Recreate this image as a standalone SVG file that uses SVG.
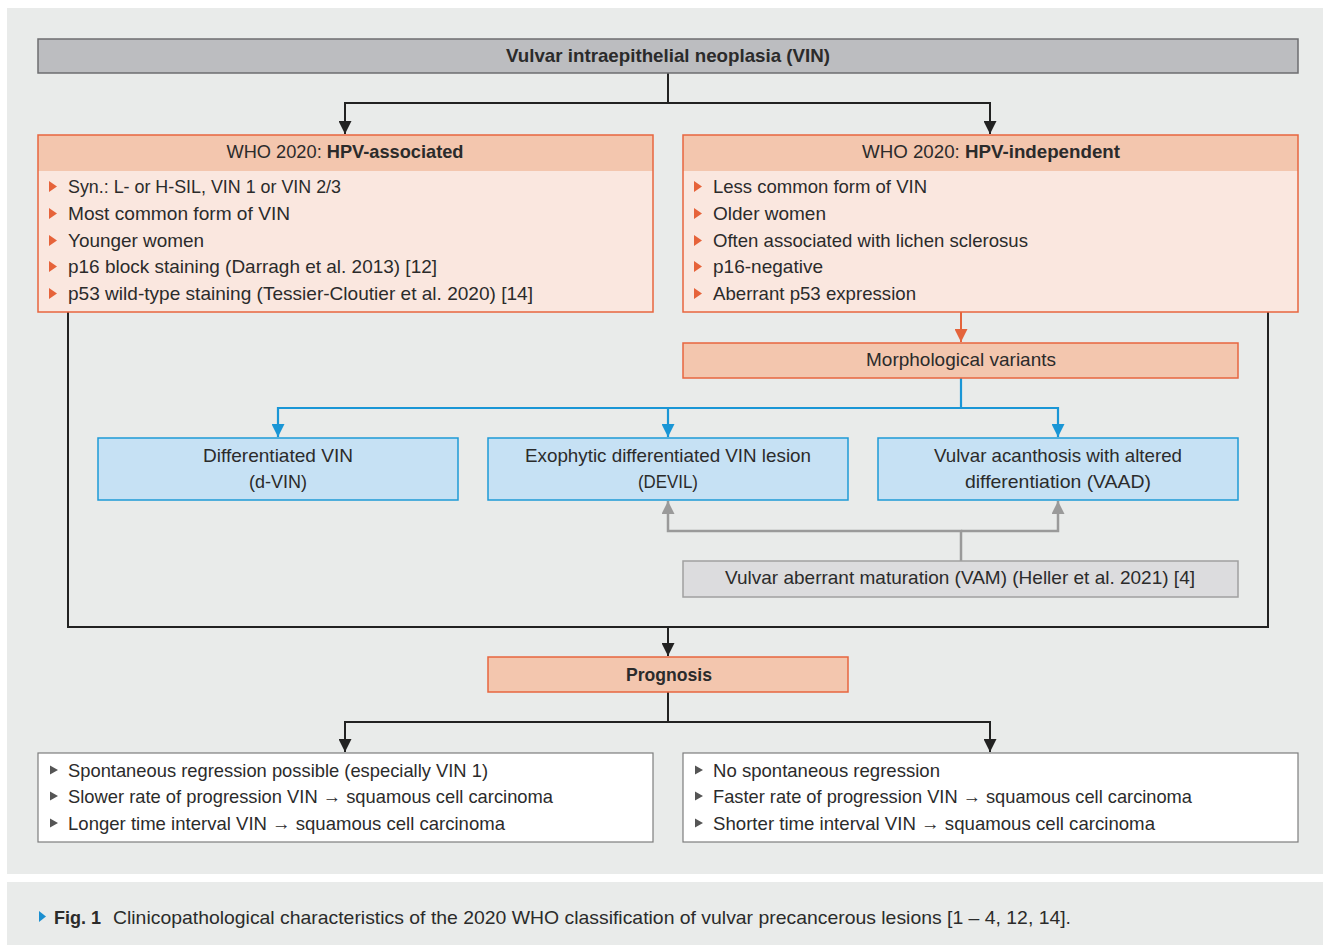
<svg xmlns="http://www.w3.org/2000/svg" width="1323" height="945" viewBox="0 0 1323 945">
<style>
text{font-family:"Liberation Sans",Arial,sans-serif;font-size:19px;fill:#2b2b2b}
.b{font-weight:bold}
.c{text-anchor:middle}
.k{fill:none;stroke:#222;stroke-width:2}
.o{fill:none;stroke:#e4643c;stroke-width:2}
.bl{fill:none;stroke:#1a96d6;stroke-width:2.2}
.g{fill:none;stroke:#9a9a9a;stroke-width:2.5}
.or{fill:#f3c6ae;stroke:#e7663f;stroke-width:1.5}
.ob{fill:#fae7df;stroke:none}
.blue{fill:#c6e1f4;stroke:#1e9ad6;stroke-width:1.5}
.ob1{fill:#e6633a}
.gb{fill:#555}
</style>
<defs>
<marker id="ak" viewBox="0 0 10 10" refX="10" refY="5" markerWidth="13" markerHeight="13" markerUnits="userSpaceOnUse" orient="auto"><path d="M0,0L10,5L0,10z" fill="#222"/></marker>
<marker id="ao" viewBox="0 0 10 10" refX="10" refY="5" markerWidth="13" markerHeight="13" markerUnits="userSpaceOnUse" orient="auto"><path d="M0,0L10,5L0,10z" fill="#e4643c"/></marker>
<marker id="ab" viewBox="0 0 10 10" refX="10" refY="5" markerWidth="13" markerHeight="13" markerUnits="userSpaceOnUse" orient="auto"><path d="M0,0L10,5L0,10z" fill="#1a96d6"/></marker>
<marker id="ag" viewBox="0 0 10 10" refX="10" refY="5" markerWidth="13" markerHeight="13" markerUnits="userSpaceOnUse" orient="auto"><path d="M0,0L10,5L0,10z" fill="#9a9a9a"/></marker>
</defs>
<rect x="0" y="0" width="1323" height="945" fill="#ffffff"/>
<rect x="7" y="8" width="1316" height="866" fill="#e9ebea"/>
<rect x="7" y="882" width="1316" height="63" fill="#e9ebea"/>

<g id="connectors">
<path class="k" d="M668,73V103H345V134" marker-end="url(#ak)"/>
<path class="k" d="M668,103H990V134" marker-end="url(#ak)"/>
<path class="o" d="M961,312V342" marker-end="url(#ao)"/>
<path class="bl" d="M961,378V408H278V437" marker-end="url(#ab)"/>
<path class="bl" d="M668,408V437" marker-end="url(#ab)"/>
<path class="bl" d="M961,408H1058V437" marker-end="url(#ab)"/>
<path class="g" d="M961,561V531H668V501" marker-end="url(#ag)"/>
<path class="g" d="M961,531H1058V501" marker-end="url(#ag)"/>
<path class="k" d="M68,312V627H1268V312"/>
<path class="k" d="M668,627V656" marker-end="url(#ak)"/>
<path class="k" d="M668,692V722H345V752" marker-end="url(#ak)"/>
<path class="k" d="M668,722H990V752" marker-end="url(#ak)"/>
</g>

<g id="title">
<rect x="38" y="39" width="1260" height="34" fill="#bcbdc0" stroke="#6d6e70" stroke-width="1.5"/>
<text class="b c" x="668" y="62" textLength="324" lengthAdjust="spacingAndGlyphs">Vulvar intraepithelial neoplasia (VIN)</text>
</g>

<g id="hpv-associated">
<rect x="38" y="135" width="615" height="177" class="ob"/>
<rect x="38" y="135" width="615" height="36" fill="#f3c6ae"/>
<rect x="38" y="135" width="615" height="177" fill="none" stroke="#e7663f" stroke-width="1.5"/>
<text class="c" x="345" y="158" textLength="237" lengthAdjust="spacingAndGlyphs">WHO 2020: <tspan class="b">HPV-associated</tspan></text>
<path class="ob1" d="M49,181l8,5.5l-8,5.5zM49,208l8,5.5l-8,5.5zM49,235l8,5.5l-8,5.5zM49,261l8,5.5l-8,5.5zM49,288l8,5.5l-8,5.5z"/>
<text x="68" y="193" textLength="273" lengthAdjust="spacingAndGlyphs">Syn.: L- or H-SIL, VIN 1 or VIN 2/3</text>
<text x="68" y="220" textLength="222" lengthAdjust="spacingAndGlyphs">Most common form of VIN</text>
<text x="68" y="247" textLength="136" lengthAdjust="spacingAndGlyphs">Younger women</text>
<text x="68" y="273" textLength="369" lengthAdjust="spacingAndGlyphs">p16 block staining (Darragh et al. 2013) [12]</text>
<text x="68" y="300" textLength="465" lengthAdjust="spacingAndGlyphs">p53 wild-type staining (Tessier-Cloutier et al. 2020) [14]</text>
</g>

<g id="hpv-independent">
<rect x="683" y="135" width="615" height="177" class="ob"/>
<rect x="683" y="135" width="615" height="36" fill="#f3c6ae"/>
<rect x="683" y="135" width="615" height="177" fill="none" stroke="#e7663f" stroke-width="1.5"/>
<text class="c" x="991" y="158" textLength="258" lengthAdjust="spacingAndGlyphs">WHO 2020: <tspan class="b">HPV-independent</tspan></text>
<path class="ob1" d="M694,181l8,5.5l-8,5.5zM694,208l8,5.5l-8,5.5zM694,235l8,5.5l-8,5.5zM694,261l8,5.5l-8,5.5zM694,288l8,5.5l-8,5.5z"/>
<text x="713" y="193" textLength="214" lengthAdjust="spacingAndGlyphs">Less common form of VIN</text>
<text x="713" y="220" textLength="113" lengthAdjust="spacingAndGlyphs">Older women</text>
<text x="713" y="247" textLength="315" lengthAdjust="spacingAndGlyphs">Often associated with lichen sclerosus</text>
<text x="713" y="273" textLength="110" lengthAdjust="spacingAndGlyphs">p16-negative</text>
<text x="713" y="300" textLength="203" lengthAdjust="spacingAndGlyphs">Aberrant p53 expression</text>
</g>

<g id="morphological-variants">
<rect x="683" y="343" width="555" height="35" class="or"/>
<text class="c" x="961" y="366" textLength="190" lengthAdjust="spacingAndGlyphs">Morphological variants</text>
</g>

<g id="d-vin">
<rect x="98" y="438" width="360" height="62" class="blue"/>
<text class="c" x="278" y="462" textLength="150" lengthAdjust="spacingAndGlyphs">Differentiated VIN</text>
<text class="c" x="278" y="488" textLength="58" lengthAdjust="spacingAndGlyphs">(d-VIN)</text>
</g>

<g id="devil">
<rect x="488" y="438" width="360" height="62" class="blue"/>
<text class="c" x="668" y="462" textLength="286" lengthAdjust="spacingAndGlyphs">Exophytic differentiated VIN lesion</text>
<text class="c" x="668" y="488" textLength="60" lengthAdjust="spacingAndGlyphs">(DEVIL)</text>
</g>

<g id="vaad">
<rect x="878" y="438" width="360" height="62" class="blue"/>
<text class="c" x="1058" y="462" textLength="248" lengthAdjust="spacingAndGlyphs">Vulvar acanthosis with altered</text>
<text class="c" x="1058" y="488" textLength="186" lengthAdjust="spacingAndGlyphs">differentiation (VAAD)</text>
</g>

<g id="vam">
<rect x="683" y="561" width="555" height="36" fill="#dcdcde" stroke="#a0a0a0" stroke-width="1.5"/>
<text class="c" x="960" y="584" textLength="470" lengthAdjust="spacingAndGlyphs">Vulvar aberrant maturation (VAM) (Heller et al. 2021) [4]</text>
</g>

<g id="prognosis">
<rect x="488" y="657" width="360" height="35" class="or"/>
<text class="b c" x="669" y="681" textLength="86" lengthAdjust="spacingAndGlyphs">Prognosis</text>
</g>

<g id="prognosis-hpv-associated">
<rect x="38" y="753" width="615" height="89" fill="#ffffff" stroke="#7d7d7d" stroke-width="1.2"/>
<path class="gb" d="M50,765.5l8,4.5l-8,4.5zM50,791.5l8,4.5l-8,4.5zM50,818.5l8,4.5l-8,4.5z"/>
<text x="68" y="777" textLength="420" lengthAdjust="spacingAndGlyphs">Spontaneous regression possible (especially VIN 1)</text>
<text x="68" y="803" textLength="485" lengthAdjust="spacingAndGlyphs">Slower rate of progression VIN → squamous cell carcinoma</text>
<text x="68" y="830" textLength="437" lengthAdjust="spacingAndGlyphs">Longer time interval VIN → squamous cell carcinoma</text>
</g>

<g id="prognosis-hpv-independent">
<rect x="683" y="753" width="615" height="89" fill="#ffffff" stroke="#7d7d7d" stroke-width="1.2"/>
<path class="gb" d="M695,765.5l8,4.5l-8,4.5zM695,791.5l8,4.5l-8,4.5zM695,818.5l8,4.5l-8,4.5z"/>
<text x="713" y="777" textLength="227" lengthAdjust="spacingAndGlyphs">No spontaneous regression</text>
<text x="713" y="803" textLength="479" lengthAdjust="spacingAndGlyphs">Faster rate of progression VIN → squamous cell carcinoma</text>
<text x="713" y="830" textLength="442" lengthAdjust="spacingAndGlyphs">Shorter time interval VIN → squamous cell carcinoma</text>
</g>

<g id="caption">
<path d="M39,911l7,5.5l-7,5.5z" fill="#1b8fd0"/>
<text class="b" x="54" y="924" textLength="47" lengthAdjust="spacingAndGlyphs">Fig. 1</text>
<text x="113" y="924" textLength="958" lengthAdjust="spacingAndGlyphs">Clinicopathological characteristics of the 2020 WHO classification of vulvar precancerous lesions [1 – 4, 12, 14].</text>
</g>
</svg>
